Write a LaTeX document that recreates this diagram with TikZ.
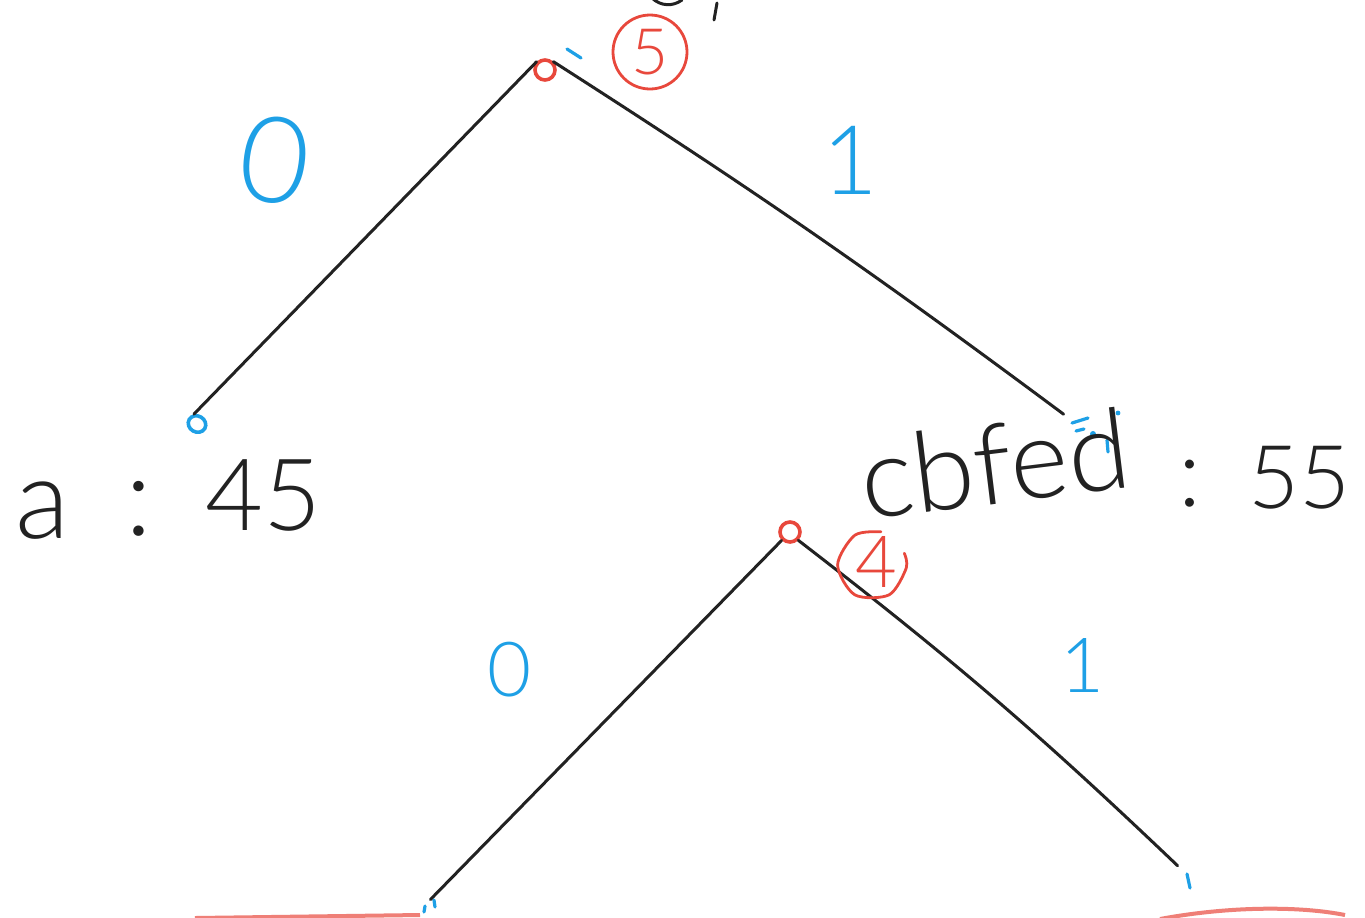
\documentclass[tikz,border=0pt]{standalone}
\usepackage{fontspec}
\usetikzlibrary{shapes.geometric}
\newfontfamily\hand{Lato Light}
\definecolor{hblue}{RGB}{30,160,230}
\definecolor{hred}{RGB}{232,72,60}
\definecolor{ink}{RGB}{34,34,34}
\begin{document}
\begin{tikzpicture}[x=0.5pt,y=-0.5pt,
  edge/.style={ink,line width=1.5pt,line cap=round},
  rnode/.style={circle,draw=hred,line width=1.8pt,minimum size=10pt,inner sep=0pt},
  bnode/.style={ellipse,draw=hblue,line width=1.8pt,minimum width=9pt,minimum height=8pt,inner sep=0pt},
  pt/.style={inner sep=0pt,minimum size=2pt},
  bluetick/.style={hblue,line width=1.6pt,line cap=round},
  lab/.style={text=hblue,inner sep=0pt},
  txt/.style={text=ink,inner sep=0pt,font=\hand\fontsize{56}{56}\selectfont},
  num/.style={circle,draw=hred,line width=1.4pt,text=hred,inner sep=0pt,font=\hand\fontsize{32}{32}\selectfont}]
\useasboundingbox (0,0) rectangle (1365,917);
\fill[white] (0,0) rectangle (1365,917);

% tree nodes
\node[rnode] (root) at (545,70) {};
\node[bnode,rotate=-30] (la) at (197,424) {};
\node[pt] (lr) at (1066,416) {};
\node[rnode] (n2) at (790,532) {};
\node[pt] (lbl) at (428,902) {};
\node[pt] (lbr) at (1180,868) {};

% connectors
\draw[edge] (root.north west) -- (la.north west);
\draw[edge] (root.north east) to[bend left=2] (lr);
\draw[edge] (n2.south west) -- (lbl);
\draw[edge] (n2.south east) to[bend left=3] (lbr);

% blue leaf marks
\draw[bluetick] (567,49) -- (581,58);
\draw[bluetick] (1072,423) -- (1088,418);
\draw[bluetick] (1076,431) -- (1084,429);
\fill[hblue] (1093,434) circle (1.5pt);
\fill[hblue] (1118,413) circle (1.2pt);
\draw[bluetick] (1107,440) -- (1108,452);
\draw[bluetick] (425,906) -- (424,912);
\draw[bluetick] (434,900) -- (435,907);
\draw[bluetick] (1187,874) -- (1190,888);

% edge labels
\node[lab,font=\hand\fontsize{60}{60}\selectfont,rotate=-8] (l0a) at (275,160) {0};
\node[lab,font=\hand\fontsize{48}{48}\selectfont] (l1a) at (850,160) {1};
\node[lab,font=\hand\fontsize{38}{38}\selectfont] (l0b) at (510,670) {0};
\node[lab,font=\hand\fontsize{38}{38}\selectfont] (l1b) at (1083,665) {1};

% step numbers
\node[num,minimum size=37pt] (s5) at (650,52) {5};
\node[circle,minimum size=34pt,inner sep=0pt] (c4) at (872,565) {};
\node[text=hred,inner sep=0pt,font=\hand\fontsize{36}{36}\selectfont] (s4) at (876,562) {4};
\draw[hred,line width=1.4pt,line cap=round] plot[smooth] coordinates {(c4.75) (c4.120) (c4.180) (c4.240) (c4.300) (c4.355) (c4.20)};

% texts
\node[txt,anchor=base west] (ta) at (15,538) {a};
\node[txt,anchor=base west] (tc1) at (125,535) {:};
\node[txt,anchor=base west,font=\hand\fontsize{50}{50}\selectfont] (t45) at (205,530) {45};
\node[txt,anchor=base west,rotate=7] (tcb) at (865,520) {cbfed};
\node[txt,anchor=base west,font=\hand\fontsize{48}{48}\selectfont] (tc2) at (1178,506) {:};
\node[txt,anchor=base west,font=\hand\fontsize{44}{44}\selectfont] (t55) at (1248,508) {55};

% cut-off strokes at top
\draw[ink,line width=1.5pt,line cap=round] (652,-2) to[bend right=40] (682,0);
\draw[ink,line width=1.5pt,line cap=round] (717,3) -- (714,20);

% red strokes at bottom
\draw[hred!70,line width=2pt] (195,918) -- (420,915);
\draw[hred!70,line width=2pt] (1160,919) .. controls (1230,906) and (1300,906) .. (1345,915);
\end{tikzpicture}
\end{document}
